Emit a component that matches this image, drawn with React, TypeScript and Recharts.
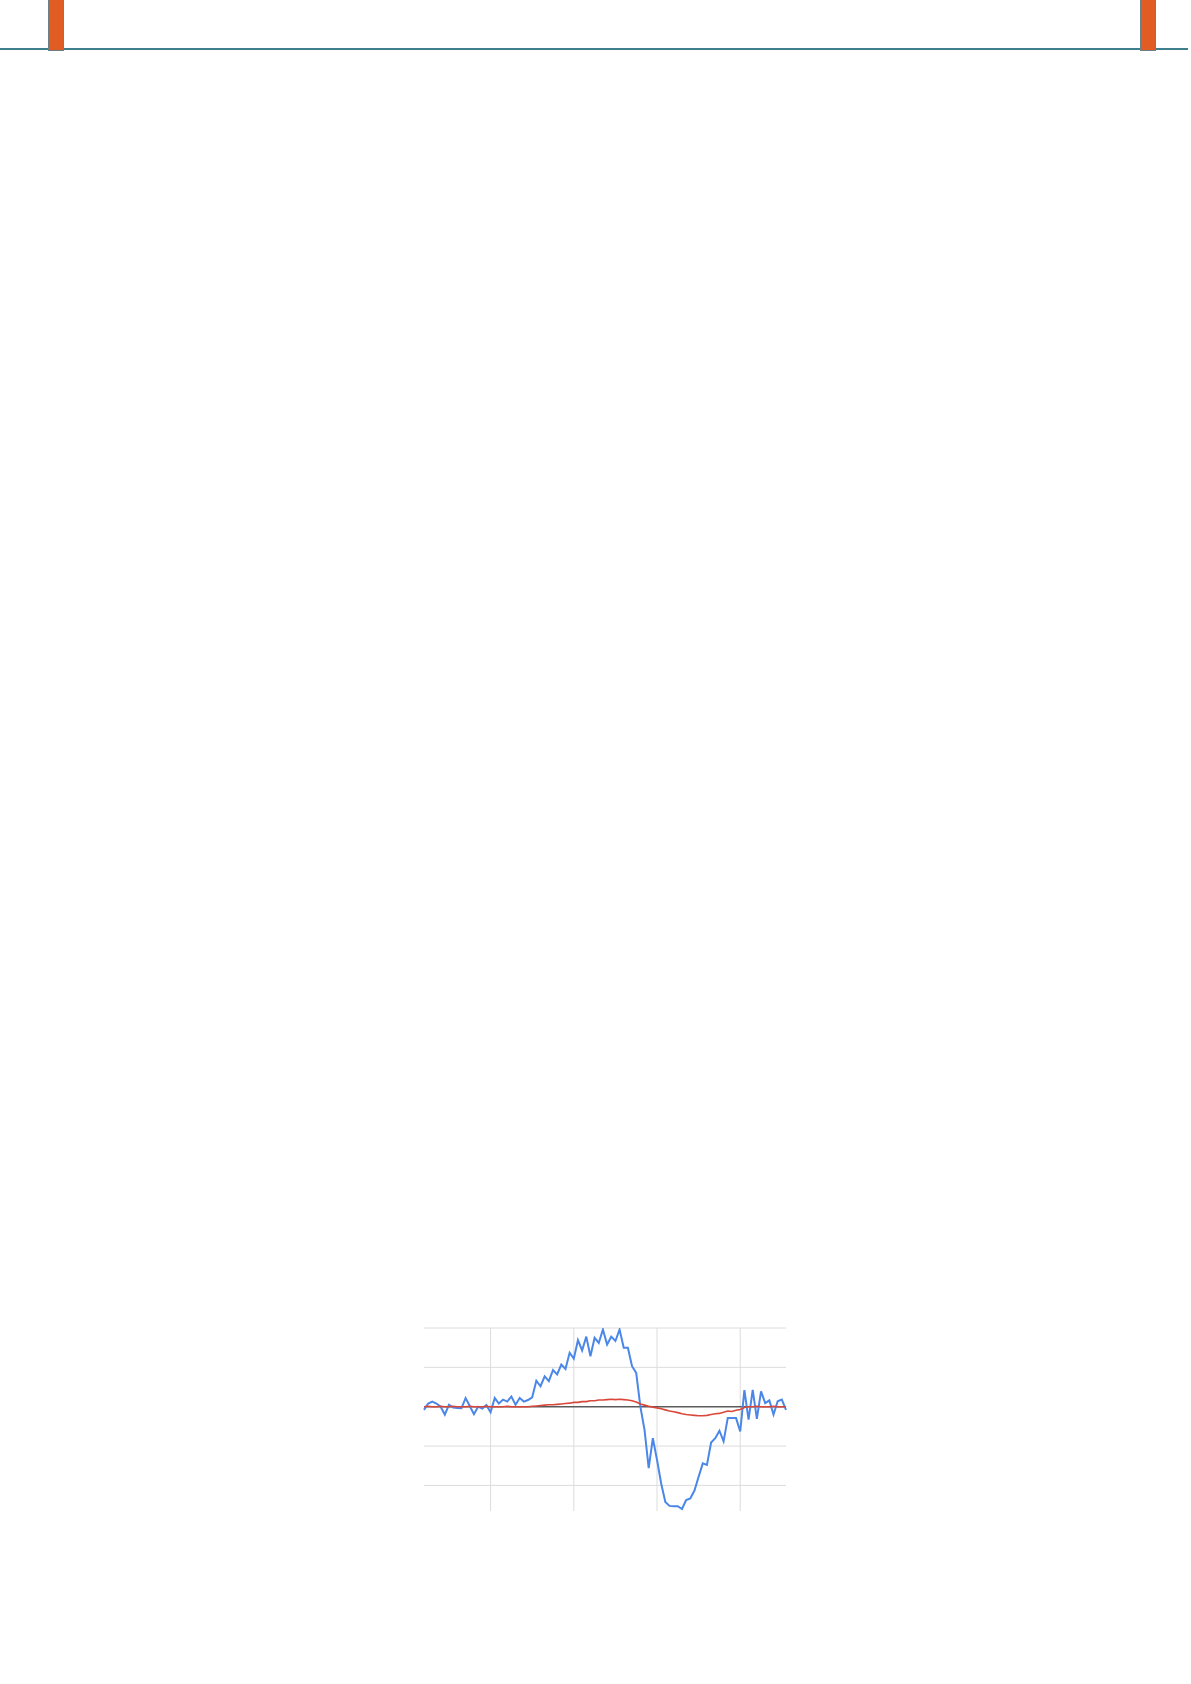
import React from "react";
import { LineChart, Line, XAxis, YAxis, ReferenceLine } from "recharts";

const indices: number[] = Array.from({ length: 88 }, (_, i) => i);

const interestValues: number[] = [
  -0.08, 0.08, 0.13, 0.08, 0.0, -0.2, 0.05, -0.02, -0.03, -0.04,
  0.22, 0.02, -0.19, 0.0, -0.05, 0.04, -0.14, 0.22, 0.08, 0.18,
  0.13, 0.26, 0.05, 0.22, 0.13, 0.17, 0.24, 0.66, 0.52, 0.77,
  0.65, 0.93, 0.82, 1.07, 0.96, 1.37, 1.22, 1.69, 1.43, 1.78,
  1.28, 1.75, 1.62, 1.96, 1.58, 1.78, 1.67, 1.96, 1.5, 1.5,
  1.03, 0.86, 0.0, -0.59, -1.56, -0.8, -1.35, -1.95, -2.42, -2.52,
  -2.53, -2.53, -2.6, -2.37, -2.33, -2.13, -1.78, -1.44, -1.48, -0.91,
  -0.8, -0.61, -0.88, -0.29, -0.29, -0.29, -0.63, 0.42, -0.33, 0.43,
  -0.31, 0.39, 0.09, 0.16, -0.2, 0.14, 0.18, -0.08,
];

const trendValues: number[] = [
  0.0, 0.01, 0.0, 0.0, 0.01, 0.0, 0.0, 0.01, 0.0, 0.0,
  0.0, 0.01, 0.0, 0.0, 0.0, 0.01, 0.0, 0.0, 0.0, 0.0,
  0.01, 0.0, 0.0, 0.0, 0.0, 0.0, 0.01, 0.02, 0.03, 0.04,
  0.05, 0.05, 0.06, 0.07, 0.08, 0.09, 0.11, 0.11, 0.13, 0.13,
  0.15, 0.15, 0.17, 0.17, 0.18, 0.19, 0.18, 0.19, 0.18, 0.17,
  0.15, 0.12, 0.07, 0.04, 0.01, -0.01, -0.03, -0.05, -0.08, -0.11,
  -0.13, -0.15, -0.18, -0.2, -0.21, -0.22, -0.23, -0.23, -0.22, -0.2,
  -0.18, -0.17, -0.14, -0.11, -0.12, -0.09, -0.07, -0.02, 0.0, 0.0,
  0.01, 0.0, 0.0, 0.0, 0.01, 0.0, 0.0, 0.0,
];

const yGridValues: number[] = [2, 1, -1, -2];
const xGridValues: number[] = [16, 36, 56, 76];

const data = indices.map((idx, k) => ({
  idx,
  interest: interestValues[k],
  trend: trendValues[k],
}));

export default function App() {
  return (
    <div
      style={{
        position: "absolute",
        left: 0,
        top: 0,
        width: 1191,
        height: 1684,
        background: "#ffffff",
        overflow: "hidden",
      }}
    >
      {/* Header rule */}
      <div
        style={{
          position: "absolute",
          left: 0,
          top: 48,
          width: 1188,
          height: 2,
          background: "#3f7e8c",
        }}
      />
      {/* Orange tabs */}
      <div
        style={{
          position: "absolute",
          left: 48,
          top: -2,
          width: 14,
          height: 51,
          background: "#e05c22",
          border: "1px solid #6a7f86",
        }}
      />
      <div
        style={{
          position: "absolute",
          left: 1140,
          top: -2,
          width: 14,
          height: 51,
          background: "#e05c22",
          border: "1px solid #6a7f86",
        }}
      />

      {/* Chart */}
      <div style={{ position: "absolute", left: 414, top: 1318 }}>
        <LineChart
          width={382}
          height={203}
          data={data}
          margin={{ top: 10, right: 10, bottom: 10, left: 10 }}
        >
          <XAxis dataKey="idx" type="number" domain={[0, 87]} hide />
          <YAxis type="number" domain={[-2.65, 2]} hide allowDataOverflow />
          {yGridValues.map((v) => (
            <ReferenceLine key={"y" + v} y={v} stroke="#dcdcdc" strokeWidth={1} />
          ))}
          {xGridValues.map((v) => (
            <ReferenceLine key={"x" + v} x={v} stroke="#dcdcdc" strokeWidth={1} />
          ))}
          <ReferenceLine y={0} stroke="#5a5a5a" strokeWidth={1.5} />
          <Line
            type="linear"
            dataKey="interest"
            stroke="#4a87e8"
            strokeWidth={2}
            dot={false}
            isAnimationActive={false}
          />
          <Line
            type="linear"
            dataKey="trend"
            stroke="#d9473a"
            strokeWidth={1.6}
            dot={false}
            isAnimationActive={false}
          />
        </LineChart>
      </div>
    </div>
  );
}
